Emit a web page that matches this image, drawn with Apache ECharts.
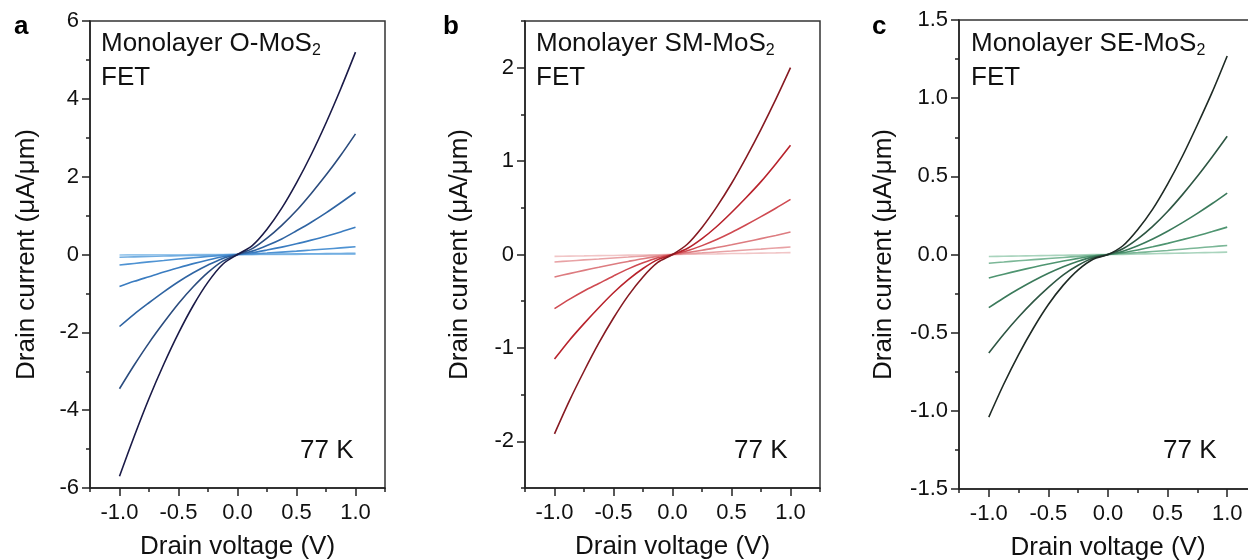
<!DOCTYPE html>
<html><head><meta charset="utf-8">
<script src="https://cdn.jsdelivr.net/npm/echarts@6/dist/echarts.min.js"></script>
<style>html,body{margin:0;padding:0;background:#fff}#c{width:1248px;height:560px}</style>
</head><body><div id="c"></div>
<script>
// Drain voltage sampling (V)
const voltage = [-1,-0.875,-0.75,-0.625,-0.5,-0.375,-0.25,-0.125,0,0.125,0.25,0.375,0.5,0.625,0.75,0.875,1];

// Panel a: monolayer O-MoS2 FET, drain current (uA/um), darkest first
const oMoS2_1 = [-5.7,-4.67,-3.70,-2.82,-2.02,-1.31,-0.71,-0.25,0,0.23,0.65,1.19,1.84,2.57,3.38,4.26,5.2];
const oMoS2_2 = [-3.45,-2.84,-2.27,-1.75,-1.26,-0.83,-0.46,-0.17,0,0.15,0.42,0.75,1.13,1.57,2.04,2.55,3.1];
const oMoS2_3 = [-1.85,-1.53,-1.24,-0.96,-0.70,-0.47,-0.27,-0.10,0,0.087,0.23,0.40,0.61,0.83,1.07,1.33,1.6];
const oMoS2_4 = [-0.82,-0.69,-0.57,-0.45,-0.34,-0.235,-0.14,-0.058,0,0.047,0.115,0.19,0.275,0.37,0.47,0.58,0.7];
const oMoS2_5 = [-0.27,-0.23,-0.19,-0.154,-0.117,-0.083,-0.051,-0.022,0,0.017,0.038,0.062,0.087,0.114,0.142,0.17,0.2];
const oMoS2_6 = [-0.07,-0.06,-0.05,-0.04,-0.032,-0.023,-0.015,-0.007,0,0.004,0.007,0.011,0.015,0.019,0.023,0.027,0.03];
const oMoS2_7 = [-0.012,-0.01,-0.009,-0.007,-0.006,-0.004,-0.003,-0.001,0,0.001,0.002,0.003,0.004,0.005,0.006,0.007,0.008];

// Panel b: monolayer SM-MoS2 FET
const smMoS2_1 = [-1.92,-1.57,-1.25,-0.95,-0.68,-0.44,-0.24,-0.085,0,0.11,0.29,0.51,0.76,1.04,1.34,1.66,2.0];
const smMoS2_2 = [-1.12,-0.92,-0.74,-0.57,-0.41,-0.27,-0.15,-0.055,0,0.064,0.17,0.30,0.45,0.61,0.78,0.97,1.17];
const smMoS2_3 = [-0.58,-0.48,-0.39,-0.31,-0.23,-0.154,-0.089,-0.035,0,0.04,0.095,0.16,0.235,0.318,0.405,0.495,0.59];
const smMoS2_4 = [-0.24,-0.205,-0.17,-0.137,-0.104,-0.074,-0.045,-0.02,0,0.02,0.045,0.074,0.104,0.137,0.17,0.204,0.24];
const smMoS2_5 = [-0.08,-0.069,-0.058,-0.048,-0.037,-0.027,-0.017,-0.008,0,0.008,0.017,0.027,0.037,0.048,0.058,0.069,0.08];
const smMoS2_6 = [-0.02,-0.017,-0.015,-0.012,-0.01,-0.007,-0.005,-0.002,0,0.002,0.005,0.007,0.01,0.012,0.015,0.017,0.02];

// Panel c: monolayer SE-MoS2 FET
const seMoS2_1 = [-1.04,-0.83,-0.64,-0.47,-0.32,-0.196,-0.098,-0.03,0,0.056,0.16,0.29,0.45,0.63,0.83,1.04,1.27];
const seMoS2_2 = [-0.63,-0.51,-0.40,-0.30,-0.21,-0.13,-0.069,-0.023,0,0.037,0.10,0.18,0.275,0.383,0.50,0.625,0.756];
const seMoS2_3 = [-0.34,-0.278,-0.221,-0.168,-0.12,-0.078,-0.0425,-0.015,0,0.021,0.056,0.099,0.149,0.204,0.263,0.326,0.393];
const seMoS2_4 = [-0.15,-0.126,-0.103,-0.081,-0.061,-0.042,-0.025,-0.01,0,0.012,0.029,0.049,0.071,0.095,0.12,0.147,0.175];
const seMoS2_5 = [-0.056,-0.048,-0.04,-0.033,-0.026,-0.019,-0.012,-0.006,0,0.006,0.012,0.019,0.026,0.034,0.042,0.05,0.058];
const seMoS2_6 = [-0.013,-0.011,-0.01,-0.008,-0.006,-0.005,-0.003,-0.001,0,0.001,0.003,0.005,0.007,0.009,0.011,0.013,0.015];

// Tick values
const xMajorTicks = [-1,-0.5,0,0.5,1];
const xMinorTicks = [-1.25,-0.75,-0.25,0.25,0.75,1.25];
const yMajorA = [-6,-4,-2,0,2,4,6];
const yMinorA = [-5,-3,-1,1,3,5];
const yMajorB = [-2,-1,0,1,2];
const yMinorB = [-2.5,-1.5,-0.5,0.5,1.5,2.5];
const yMajorC = [-1.5,-1,-0.5,0,0.5,1,1.5];
const yMinorC = [-1.25,-0.75,-0.25,0.25,0.75,1.25];

const panelTitles = ['Monolayer O-MoS', 'Monolayer SM-MoS', 'Monolayer SE-MoS'];
const panelLetters = ['a', 'b', 'c'];
const tempLabel = '77 K';

const FONT = '"Liberation Sans", Arial, Helvetica, sans-serif';
const INK = '#111';
const AX = '#222';

const colorsA = ['#1b1b48','#2b4c7e','#2f64a2','#3a7cc0','#4f93d3','#72ade0','#97c6ec'];
const colorsB = ['#861a22','#b8232c','#cf4a51','#dd7c80','#e8a2a5','#f1c6c7'];
const colorsC = ['#1f2b25','#2e5643','#3b7a5b','#4f9571','#7bb797','#a9d4bd'];

const grids = [
  {left:90, top:21, width:295, height:467},
  {left:525, top:21, width:295, height:467},
  {left:959, top:20, width:298, height:469}
].map(g => Object.assign(g, {show:true, borderColor:'#333', borderWidth:1.5, backgroundColor:'transparent', containLabel:false, outerBoundsMode:'none'}));

const yCfg = [
  {min:-6, max:6, major:yMajorA, minor:yMinorA, fmt:v=>String(v), gap:50},
  {min:-2.5, max:2.5, major:yMajorB, minor:yMinorB, fmt:v=>String(v), gap:52},
  {min:-1.5, max:1.5, major:yMajorC, minor:yMinorC, fmt:v=>v.toFixed(1), gap:62}
];

const xAxes = [], yAxes = [];
for (let g = 0; g < 3; g++) {
  xAxes.push({
    type:'value', gridIndex:g, min:-1.25, max:1.25, position:'bottom',
    axisLine:{show:true, onZero:false, lineStyle:{color:AX, width:1.5}},
    axisTick:{show:true, customValues:xMajorTicks, length:8, lineStyle:{color:AX, width:1.5}},
    axisLabel:{show:true, customValues:xMajorTicks, formatter:v=>v.toFixed(1), fontSize:22, color:INK, fontFamily:FONT, margin:14},
    splitLine:{show:false},
    name:'Drain voltage (V)', nameLocation:'middle', nameGap:46,
    nameTextStyle:{fontSize:26, color:INK, fontFamily:FONT}
  });
  xAxes.push({
    type:'value', gridIndex:g, min:-1.25, max:1.25, position:'bottom',
    axisLine:{show:false, onZero:false},
    axisTick:{show:true, customValues:xMinorTicks, length:4, lineStyle:{color:AX, width:1.5}},
    axisLabel:{show:false}, splitLine:{show:false}
  });
  const c = yCfg[g];
  yAxes.push({
    type:'value', gridIndex:g, min:c.min, max:c.max, position:'left',
    axisLine:{show:true, onZero:false, lineStyle:{color:AX, width:1.5}},
    axisTick:{show:true, customValues:c.major, length:8, lineStyle:{color:AX, width:1.5}},
    axisLabel:{show:true, customValues:c.major, formatter:c.fmt, fontSize:22, color:INK, fontFamily:FONT, margin:11},
    splitLine:{show:false},
    name:'Drain current (\u03bcA/\u03bcm)', nameLocation:'middle', nameGap:c.gap,
    nameTextStyle:{fontSize:26, color:INK, fontFamily:FONT}
  });
  yAxes.push({
    type:'value', gridIndex:g, min:c.min, max:c.max, position:'left',
    axisLine:{show:false, onZero:false},
    axisTick:{show:true, customValues:c.minor, length:4, lineStyle:{color:AX, width:1.5}},
    axisLabel:{show:false}, splitLine:{show:false}
  });
}

function mk(arr, g, color) {
  return {
    type:'line', xAxisIndex:g*2, yAxisIndex:g*2, showSymbol:false, smooth:0.3,
    data: voltage.map((v,i)=>[v, arr[i]]),
    lineStyle:{color:color, width:1.6}, itemStyle:{color:color}, silent:true
  };
}
const setA = [oMoS2_1,oMoS2_2,oMoS2_3,oMoS2_4,oMoS2_5,oMoS2_6,oMoS2_7];
const setB = [smMoS2_1,smMoS2_2,smMoS2_3,smMoS2_4,smMoS2_5,smMoS2_6];
const setC = [seMoS2_1,seMoS2_2,seMoS2_3,seMoS2_4,seMoS2_5,seMoS2_6];
const series = [];
for (let i = setA.length-1; i >= 0; i--) series.push(mk(setA[i], 0, colorsA[i]));
for (let i = setB.length-1; i >= 0; i--) series.push(mk(setB[i], 1, colorsB[i]));
for (let i = setC.length-1; i >= 0; i--) series.push(mk(setC[i], 2, colorsC[i]));

const titleX = [101, 536, 971];
const tempX = [300, 734, 1163];
const letterX = [14, 443, 872];
const graphic = [];
for (let g = 0; g < 3; g++) {
  graphic.push({
    type:'text', x:titleX[g], y:29, silent:true,
    style:{
      text:'{m|' + panelTitles[g] + '}{s|2}',
      rich:{
        m:{fontSize:26, lineHeight:30, fontFamily:FONT, fill:INK, color:INK},
        s:{fontSize:16, lineHeight:2, verticalAlign:'bottom', fontFamily:FONT, fill:INK, color:INK}
      },
      align:'left', verticalAlign:'top', textAlign:'left', textVerticalAlign:'top'
    }
  });
  graphic.push({
    type:'text', x:titleX[g], y:77.5, silent:true,
    style:{text:'FET', font:'26px ' + FONT, fill:INK, align:'left', verticalAlign:'middle', textAlign:'left', textVerticalAlign:'middle'}
  });
  graphic.push({
    type:'text', x:tempX[g], y:451, silent:true,
    style:{text:tempLabel, font:'26px ' + FONT, fill:INK, align:'left', verticalAlign:'middle', textAlign:'left', textVerticalAlign:'middle'}
  });
  graphic.push({
    type:'text', x:letterX[g], y:27, silent:true,
    style:{text:panelLetters[g], font:'bold 26px ' + FONT, fill:'#000', align:'left', verticalAlign:'middle', textAlign:'left', textVerticalAlign:'middle'}
  });
}

const chart = echarts.init(document.getElementById('c'), null, {renderer:'canvas'});
chart.setOption({
  animation:false,
  backgroundColor:'#fff',
  grid:grids,
  xAxis:xAxes,
  yAxis:yAxes,
  series:series,
  graphic:graphic
});
</script>
</body></html>
